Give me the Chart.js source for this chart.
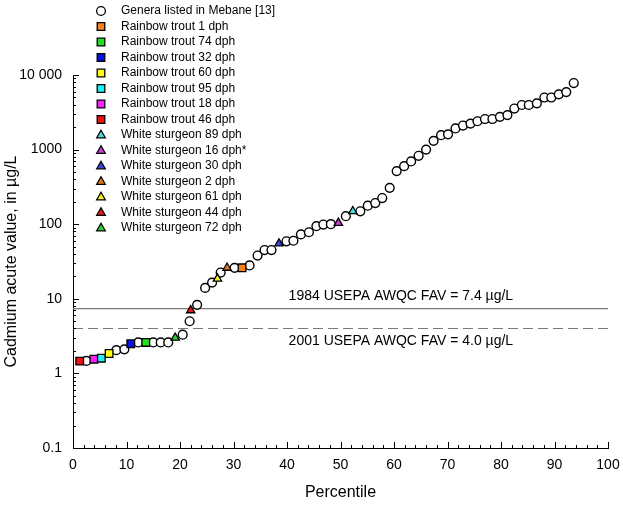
<!DOCTYPE html>
<html>
<head>
<meta charset="utf-8">
<script src="https://cdn.jsdelivr.net/npm/chart.js@4.4.1/dist/chart.umd.min.js"></script>
<style>
html, body { margin: 0; padding: 0; background: #fff; }
canvas { display: block; }
</style>
</head>
<body>
<canvas id="grafico" width="623" height="506"></canvas>
<script>
// Genera listed in Mebane [13]: percentile and acute value (µg/L)
const generaPct = [2.5, 8.1, 9.6, 12.2, 15.0, 16.4, 17.8, 20.5, 21.8, 23.2, 24.7, 26.0, 27.6, 30.2, 33.0, 34.5, 35.8,
    37.1, 39.9, 41.2, 42.6, 44.1, 45.5, 46.8, 48.2, 51.0, 53.7, 55.1, 56.5, 57.8, 59.2, 60.5, 61.9, 63.2, 64.6, 66.0,
    67.4, 68.8, 70.1, 71.5, 72.9, 74.3, 75.6, 77.0, 78.4, 79.8, 81.2, 82.5, 83.9, 85.2, 86.7, 88.1, 89.4, 90.8, 92.2, 93.6];
const generaVal = [1.47, 2.05, 2.1, 2.6, 2.6, 2.6, 2.6, 3.3, 5.0, 8.3, 14, 16.5, 22.5, 26, 28, 38, 45,
    45, 59, 60, 73, 78, 94, 99, 100, 128, 149, 177, 192, 224, 307, 515, 600, 694, 826, 1000,
    1310, 1560, 1600, 1920, 2100, 2230, 2400, 2570, 2570, 2750, 2900, 3550, 3960, 3960, 4170, 4990, 4990, 5500, 5900, 7800];

// test di laboratorio (trota iridea e storione bianco)
const specieNomi = ["Rainbow trout 1 dph", "Rainbow trout 74 dph", "Rainbow trout 32 dph", "Rainbow trout 60 dph",
    "Rainbow trout 95 dph", "Rainbow trout 18 dph", "Rainbow trout 46 dph",
    "White sturgeon 89 dph", "White sturgeon 16 dph*", "White sturgeon 30 dph", "White sturgeon 2 dph",
    "White sturgeon 61 dph", "White sturgeon 44 dph", "White sturgeon 72 dph"];
const speciePct = [31.6, 13.6, 10.8, 6.75, 5.3, 3.9, 1.25, 52.3, 49.6, 38.5, 28.8, 27.0, 22.0, 19.1];
const specieVal = [26, 2.6, 2.5, 1.85, 1.6, 1.55, 1.46, 149, 104, 55, 26, 18.6, 7.0, 3.0];

// FAV (final acute value)
const favTesti = ["1984 USEPA AWQC FAV = 7.4 µg/L", "2001 USEPA AWQC FAV = 4.0 µg/L"];
const favVal = [7.4, 4.0];

const xTicks = [0, 10, 20, 30, 40, 50, 60, 70, 80, 90, 100];
const yTicks = [0.1, 1, 10, 100, 1000, 10000];
const yLabels = ["0.1", "1", "10", "100", "1000", "10 000"];

// stili
const specieColori = ["#f5821f", "#22e022", "#0a10e0", "#ffff10", "#20f0f0", "#ff20ff", "#f01010",
    "#50d8d8", "#d040d0", "#3a44e0", "#e07a20", "#f2ee20", "#e01c1c", "#30d030"];
const specieForme = ["rect", "rect", "rect", "rect", "rect", "rect", "rect",
    "triangle", "triangle", "triangle", "triangle", "triangle", "triangle", "triangle"];

const FONT = "'Liberation Sans', Arial, sans-serif";

const disegnaSimbolo = (ctx, forma, x, y, colore) => {
    ctx.save();
    ctx.fillStyle = colore;
    ctx.strokeStyle = "#000";
    ctx.lineWidth = 1.3;
    ctx.beginPath();
    if (forma === "circle") {
        ctx.arc(x, y, 4.4, 0, Math.PI * 2);
    } else if (forma === "rect") {
        ctx.rect(x - 3.8, y - 3.8, 7.6, 7.6);
    } else {
        ctx.moveTo(x, y - 4.8);
        ctx.lineTo(x + 4.3, y + 2.8);
        ctx.lineTo(x - 4.3, y + 2.8);
        ctx.closePath();
    }
    ctx.fill();
    ctx.stroke();
    ctx.restore();
}

// tacche interne, legenda e testi delle linee FAV
const extra = {
    id: "extra",
    afterDraw(chart) {
        const {ctx, scales: {x, y}} = chart;
        ctx.save();
        ctx.strokeStyle = "#000";
        ctx.lineWidth = 1;
        ctx.beginPath();
        for (let v = 0; v <= 100; v += 2) {
            const px = Math.round(x.getPixelForValue(v)) + 0.5;
            const l = v % 10 === 0 ? 6 : 3;
            ctx.moveTo(px, y.bottom);
            ctx.lineTo(px, y.bottom - l);
        }
        yTicks.forEach((d, i) => {
            const py = Math.round(y.getPixelForValue(d)) + 0.5;
            ctx.moveTo(x.left, py);
            ctx.lineTo(x.left + 6, py);
            if (i < yTicks.length - 1) {
                for (let m = 2; m <= 9; m++) {
                    const pm = Math.round(y.getPixelForValue(d * m)) + 0.5;
                    ctx.moveTo(x.left, pm);
                    ctx.lineTo(x.left + 3, pm);
                }
            }
        });
        ctx.stroke();

        // testi FAV
        ctx.fillStyle = "#000";
        ctx.font = "14px " + FONT;
        ctx.textAlign = "left";
        ctx.textBaseline = "middle";
        const tx = x.getPixelForValue(40.3);
        ctx.fillText(favTesti[0], tx, y.getPixelForValue(favVal[0]) - 12);
        ctx.fillText(favTesti[1], tx, y.getPixelForValue(favVal[1]) + 13);

        // legenda
        ctx.font = "12px " + FONT;
        const lx = 101, ly = 11, passo = 15.5;
        disegnaSimbolo(ctx, "circle", lx, ly, "#fff");
        ctx.fillStyle = "#000";
        ctx.fillText("Genera listed in Mebane [13]", 121, ly);
        specieNomi.forEach((nome, i) => {
            const yy = ly + passo * (i + 1);
            disegnaSimbolo(ctx, specieForme[i], lx, yy, specieColori[i]);
            ctx.fillStyle = "#000";
            ctx.fillText(nome, 121, yy);
        });
        ctx.restore();
    }
};

const datasets = [];
favVal.forEach((v, i) => {
    datasets.push({
        type: "line",
        data: [{x: 0, y: v}, {x: 100, y: v}],
        borderColor: "#7a7a7a",
        borderWidth: 1.2,
        borderDash: i === 1 ? [10, 5] : [],
        pointRadius: 0,
        order: 3
    });
});
datasets.push({
    label: "Genera listed in Mebane [13]",
    data: generaPct.map((p, i) => ({x: p, y: generaVal[i]})),
    pointStyle: "circle",
    pointRadius: 4.4,
    backgroundColor: "#fff",
    borderColor: "#000",
    borderWidth: 1.4,
    order: 2
});
specieNomi.forEach((nome, i) => {
    datasets.push({
        label: nome,
        data: [{x: speciePct[i], y: specieVal[i]}],
        pointStyle: specieForme[i],
        pointRadius: specieForme[i] === "rect" ? 5.4 : 4.8,
        backgroundColor: specieColori[i],
        borderColor: "#000",
        borderWidth: 1.3,
        order: 1
    });
});

const ctx = document.getElementById("grafico").getContext("2d");
new Chart(ctx, {
    type: "scatter",
    data: {datasets: datasets},
    options: {
        responsive: false,
        animation: false,
        layout: {padding: {top: 75, right: 15, left: 0, bottom: 0}},
        plugins: {legend: {display: false}, tooltip: {enabled: false}},
        scales: {
            x: {
                type: "linear",
                min: 0,
                max: 100,
                afterBuildTicks: (s) => { s.ticks = xTicks.map(v => ({value: v})); },
                afterFit: (s) => { s.height = 58; },
                grid: {display: false},
                border: {display: true, color: "#000", width: 1},
                ticks: {color: "#000", font: {family: FONT, size: 14}, padding: 1, maxRotation: 0},
                title: {display: true, text: "Percentile", color: "#000", font: {family: FONT, size: 16}, padding: {top: 0, bottom: 4}}
            },
            y: {
                type: "logarithmic",
                min: 0.1,
                max: 10000,
                afterBuildTicks: (s) => { s.ticks = yTicks.map(v => ({value: v})); },
                afterFit: (s) => { s.width = 73; },
                grid: {display: false},
                border: {display: true, color: "#000", width: 1},
                ticks: {
                    color: "#000",
                    font: {family: FONT, size: 14},
                    padding: 3,
                    callback: (v) => { const i = yTicks.indexOf(v); return i >= 0 ? yLabels[i] : ""; }
                },
                title: {display: true, text: "Cadmium acute value, in µg/L", color: "#000", font: {family: FONT, size: 16}, padding: {top: 2, bottom: 0}}
            }
        }
    },
    plugins: [extra]
});
</script>
</body>
</html>
